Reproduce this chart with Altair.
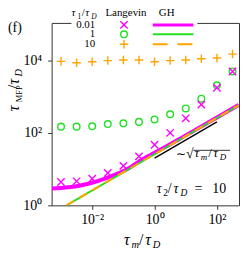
import altair as alt
import pandas as pd

# ---------------- data ----------------
tau_m = [0.001, 0.00316, 0.01, 0.0316, 0.1, 0.316, 1, 3.16, 10, 31.6, 100, 316]
lang_001 = [4.4, 4.6, 5.4, 7.8, 12.3, 22.4, 46.8, 100, 251, 600, 1750, 4900]
lang_1 = [148, 148, 151, 174, 182, 200, 234, 324, 468, 871, 2040, 4900]
lang_10 = [9300, 8500, 9100, 9800, 10200, 10200, 9100, 9800, 10200, 11000, 11500, 14800]

gh_001_x = [0.0005, 0.001, 0.0035, 0.012, 0.04, 0.135, 0.47, 1, 10, 100, 500]
gh_001_y = [2.9, 3.0, 3.4, 4.4, 6.3, 10, 20, 28, 85, 263, 590]
gh_1_x = [0.0015, 500]
gh_1_y = [1.0, 575]
gh_10_x = [0.0015, 500]
gh_10_y = [1.0, 575]
ref_x = [1, 100]
ref_y = [20, 200]

x_ticks = [0.01, 1, 100]
y_ticks = [1, 100, 10000]

MAG = "#ff00ff"
GRN = "#22e022"
ORG = "#ffa500"
FONT = "Liberation Serif"

W, H = 189, 184
OX, OY = 52, 22  # page position of the plot origin

xs = alt.Scale(type="log", domain=[5e-4, 510], nice=False)
ys = alt.Scale(type="log", domain=[1, 107000], nice=False)

xaxis = alt.Axis(values=x_ticks, title=None, grid=False, domain=False,
                 labelExpr="datum.value < 0.1 ? '10⁻²' : (datum.value < 10 ? '10⁰' : '10²')",
                 tickSize=4, tickColor="#333", labelFont=FONT, labelFontSize=14,
                 labelColor="black", labelPadding=3)
yaxis = alt.Axis(values=y_ticks, title=None, grid=False, domain=False,
                 labelExpr="datum.value < 10 ? '10⁰' : (datum.value < 1000 ? '10²' : '10⁴')",
                 tickSize=4, tickColor="#333", labelFont=FONT, labelFontSize=14,
                 labelColor="black", labelPadding=6)


def line_layer(xv, yv, color, width, dash=None):
    df = pd.DataFrame({"x": xv, "y": yv})
    kw = dict(color=color, strokeWidth=width, clip=True, interpolate="monotone")
    if dash:
        kw["strokeDash"] = dash
    return alt.Chart(df).mark_line(**kw).encode(
        x=alt.X("x:Q", scale=xs, axis=xaxis),
        y=alt.Y("y:Q", scale=ys, axis=yaxis),
    )


CROSS = "M-1,-1L1,1M-1,1L1,-1"
PLUS = "M-1,0L1,0M0,-1L0,1"


def point_layer(yv, color, shape, size):
    df = pd.DataFrame({"x": tau_m, "y": yv})
    return alt.Chart(df).mark_point(shape=shape, color=color, filled=False,
                                    size=size, strokeWidth=1.4, opacity=1).encode(
        x=alt.X("x:Q", scale=xs, axis=xaxis),
        y=alt.Y("y:Q", scale=ys, axis=yaxis),
    )


one = pd.DataFrame({"a": [0]})


def rich(parts, base, angle=0):
    """parts: (text, size, italic, pos, shift) ; pos is the page x (or y when rotated)
    where the part starts, base the page baseline, shift the subscript offset."""
    layers = []
    for text, size, italic, pos, shift in parts:
        if angle == 0:
            x, y = pos - OX, base + shift - OY
        else:
            x, y = base + shift - OX, pos - OY
        layers.append(alt.Chart(one).mark_text(
            text=text, font=FONT, fontSize=size, fontStyle="italic" if italic else "normal",
            align="left", baseline="alphabetic", angle=angle, color="black"
        ).encode(x=alt.value(x), y=alt.value(y)))
    return layers


def label(text, px, py, size, align="center", baseline="alphabetic"):
    return alt.Chart(one).mark_text(text=text, font=FONT, fontSize=size, align=align,
                                    baseline=baseline, color="black").encode(
        x=alt.value(px - OX), y=alt.value(py - OY))


layers = [
    line_layer(gh_001_x, gh_001_y, MAG, 4),
    line_layer(gh_1_x, gh_1_y, GRN, 2),
    line_layer(gh_10_x, gh_10_y, ORG, 2, dash=[9, 6]),
    line_layer(ref_x, ref_y, "black", 1.4),
    point_layer(lang_10, ORG, PLUS, 75),
    point_layer(lang_1, GRN, "circle", 45),
    point_layer(lang_001, MAG, CROSS, 55),
]

# white legend box hiding the frame top
layers.append(alt.Chart(one).mark_rect(fill="white", stroke=None).encode(
    x=alt.value(72 - OX), x2=alt.value(199 - OX), y=alt.value(-20), y2=alt.value(50 - OY)))

# legend
HB = 15.5
layers += rich([("τ", 11, True, 72, 0), ("1", 7.5, False, 78, 2.5), ("/", 11, False, 82.5, 0),
                ("τ", 11, True, 86, 0), ("D", 7.5, True, 92, 2.5)], HB)
layers.append(label("Langevin", 127, HB, 11))
layers.append(label("GH", 168, HB, 11))
rows_y = [24, 33.5, 43.5]
for txt, yy in zip(["0.01", "1", "10"], rows_y):
    layers.append(label(txt, 96, yy, 11, align="right", baseline="middle"))
leg = [(MAG, CROSS, 55, 3, None), (GRN, "circle", 45, 2, None), (ORG, PLUS, 75, 2, [15, 10])]
for (col, shp, sz, lw, dash), yy in zip(leg, rows_y):
    layers.append(alt.Chart(one).mark_point(shape=shp, color=col, filled=False, size=sz,
                                            strokeWidth=1.4, opacity=1).encode(
        x=alt.value(125 - OX), y=alt.value(yy - OY)))
    kw = dict(color=col, strokeWidth=lw)
    if dash:
        kw["strokeDash"] = dash
    layers.append(alt.Chart(one).mark_rule(**kw).encode(
        x=alt.value(154 - OX), x2=alt.value(195 - OX), y=alt.value(yy - OY)))

# panel label
layers.append(label("(f)", 8, 31, 14, align="left"))

# axis titles
layers += rich([("τ", 16, True, 111, 0), ("MFP", 8.5, False, 102, 3), ("/", 16, False, 89, 0),
                ("τ", 16, True, 84, 0), ("D", 10.5, True, 76, 3)], 19.5, angle=270)
layers += rich([("τ", 16, True, 125, 0), ("m", 10.5, True, 132.5, 3), ("/", 16, False, 140, 0),
                ("τ", 16, True, 146.5, 0), ("D", 10.5, True, 154, 3)], 246)

# annotations
layers += rich([("∼", 12, False, 177, 0), ("√", 14, False, 187.5, 0)], 158)
layers.append(alt.Chart(one).mark_rule(color="black", strokeWidth=0.8).encode(
    x=alt.value(195 - OX), x2=alt.value(232 - OX), y=alt.value(150.5 - OY)))
layers += rich([("τ", 13, True, 196, 0), ("m", 9, True, 202.5, 2.5), ("/", 13, False, 210, 0),
                ("τ", 13, True, 215, 0), ("D", 9, True, 221.5, 2.5)], 157.5)
layers += rich([("τ", 14, True, 158, 0), ("2", 9.5, False, 164.5, 3), ("/", 14, False, 169, 0),
                ("τ", 14, True, 175, 0), ("D", 9.5, True, 182, 3),
                ("=", 14, False, 196, 0), ("10", 14, False, 214, 0)], 194)

chart = alt.layer(*layers).properties(
    width=W, height=H,
    padding={"left": OX - 8, "top": OY - 8, "right": 2, "bottom": 45},
    autosize=alt.AutoSizeParams(type="none"),
).configure_view(stroke="#333", strokeWidth=1).configure_axis(ticks=True)

chart.save("out.html", embed_options={"renderer": "svg", "actions": False})
